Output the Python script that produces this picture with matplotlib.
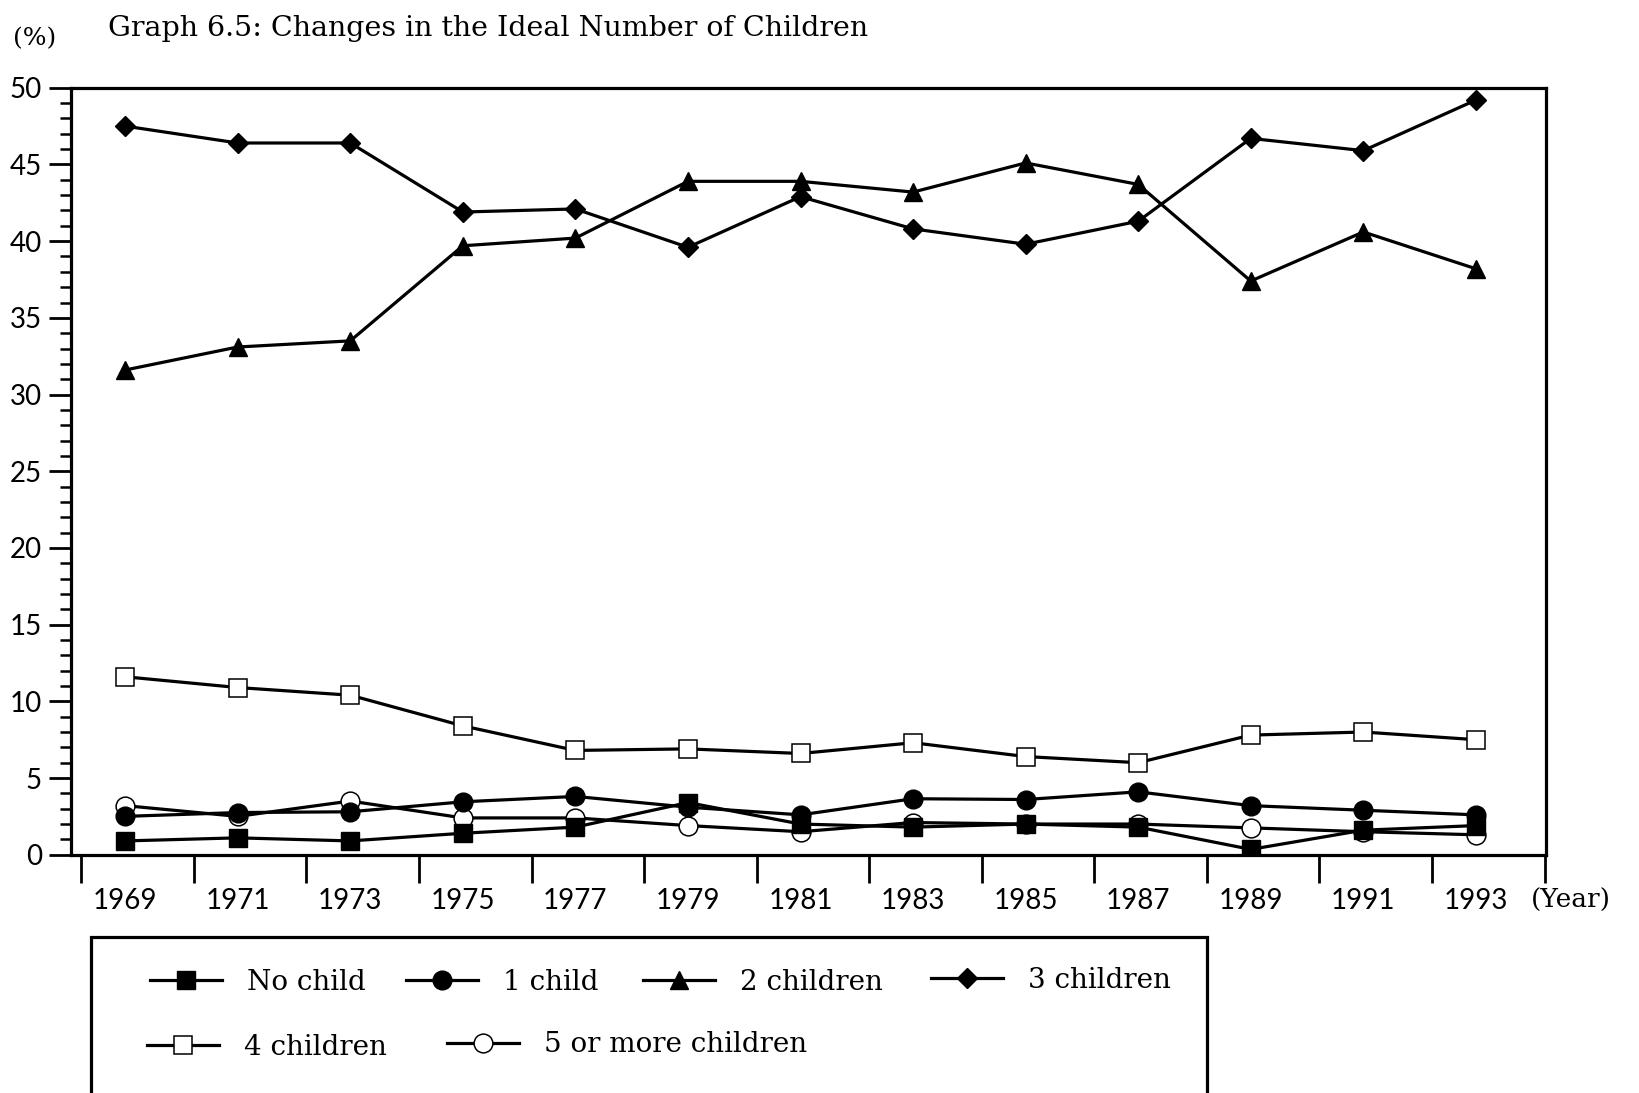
import matplotlib
matplotlib.use("Agg")
import matplotlib.pyplot as plt
from matplotlib.patches import Rectangle
from matplotlib.ticker import MultipleLocator

years = [1969, 1971, 1973, 1975, 1977, 1979, 1981, 1983, 1985, 1987, 1989, 1991, 1993]
no_child = [0.9, 1.1, 0.9, 1.4, 1.8, 3.4, 2.0, 1.8, 2.0, 1.8, 0.35, 1.6, 1.9]
one_child = [2.5, 2.75, 2.8, 3.45, 3.8, 3.1, 2.6, 3.65, 3.6, 4.1, 3.2, 2.9, 2.6]
two_children = [31.6, 33.1, 33.5, 39.7, 40.2, 43.9, 43.9, 43.2, 45.1, 43.7, 37.4, 40.6, 38.2]
three_children = [47.5, 46.4, 46.4, 41.9, 42.1, 39.6, 42.9, 40.8, 39.8, 41.3, 46.7, 45.9, 49.2]
four_children = [11.6, 10.9, 10.4, 8.4, 6.8, 6.9, 6.6, 7.3, 6.4, 6.0, 7.8, 8.0, 7.5]
five_more = [3.2, 2.5, 3.5, 2.4, 2.4, 1.9, 1.5, 2.1, 2.0, 2.0, 1.75, 1.5, 1.3]
labels = ["No child", "1 child", "2 children", "3 children", "4 children", "5 or more children"]

fig = plt.figure(figsize=(16.39, 10.93), dpi=100)
ax = fig.add_axes([0.0434, 0.218, 0.9394 - 0.0434 + 0.004, 0.9197 - 0.218])

lw = 2.3
ms = 13.5
h4, = ax.plot(years, four_children, color="black", lw=lw, marker="s", ms=ms,
              mfc="white", mec="black", mew=1.1, label=labels[4])
h5, = ax.plot(years, five_more, color="black", lw=lw, marker="o", ms=ms,
              mfc="white", mec="black", mew=1.1, label=labels[5])
h0, = ax.plot(years, no_child, color="black", lw=lw, marker="s", ms=ms,
              mfc="black", mec="black", label=labels[0])
h1, = ax.plot(years, one_child, color="black", lw=lw, marker="o", ms=ms,
              mfc="black", mec="black", label=labels[1])
h2, = ax.plot(years, two_children, color="black", lw=lw, marker="^", ms=ms,
              mfc="black", mec="black", label=labels[2])
h3, = ax.plot(years, three_children, color="black", lw=lw, marker="D", ms=ms - 3,
              mfc="black", mec="black", label=labels[3])

ax.set_ylim(0, 50)
ax.set_xlim(1968.04, 1994.25)
for s in ax.spines.values():
    s.set_linewidth(2.3)

tick_font = "Lato"
ax.yaxis.set_major_locator(MultipleLocator(5))
ax.yaxis.set_minor_locator(MultipleLocator(1))
ax.tick_params(axis="y", which="major", length=16, width=2, pad=5,
               labelsize=20, direction="out")
ax.tick_params(axis="y", which="minor", length=8, width=1.8, direction="out")
for t in ax.get_yticklabels():
    t.set_fontfamily(tick_font)

ax.set_xticks(years)
ax.set_xticklabels([str(y) for y in years], fontfamily=tick_font, fontsize=20)
ax.set_xticks([y - 0.78 for y in years] + [years[-1] + 1.22], minor=True)
ax.tick_params(axis="x", which="major", length=0, pad=24)
ax.tick_params(axis="x", which="minor", length=20, width=2, direction="out")

fig.text(0.0657, 0.974, "Graph 6.5: Changes in the Ideal Number of Children",
         fontfamily="DejaVu Serif", fontsize=20.5, va="center", ha="left")
fig.text(0.0077, 0.9646, "(%)", fontfamily="DejaVu Serif", fontsize=18,
         va="center", ha="left")
fig.text(0.934, 0.176, "(Year)", fontfamily="DejaVu Serif", fontsize=19,
         va="center", ha="left")

fig.patches.append(Rectangle((0.0555, -0.05), 0.7366 - 0.0555, 0.1424 + 0.05,
                             transform=fig.transFigure, fill=False,
                             lw=2.3, ec="black", clip_on=False))

legend_entries = [(h0, 0.0829, 0.1013), (h1, 0.2391, 0.1013),
                  (h2, 0.3839, 0.1013), (h3, 0.5593, 0.1030),
                  (h4, 0.0810, 0.0420), (h5, 0.2640, 0.0440)]
for h, lx, ly in legend_entries:
    fig.legend(handles=[h], labels=[h.get_label()], loc="center left",
               bbox_to_anchor=(lx, ly), frameon=False, borderpad=0,
               handlelength=2.6, handletextpad=0.9,
               prop={"family": "DejaVu Serif", "size": 20})

fig.savefig("out.png", dpi=100)
